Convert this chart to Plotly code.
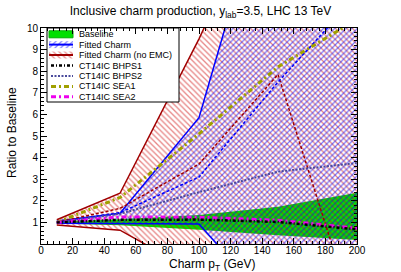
import plotly.graph_objects as go

# ---------------- data ----------------
pt = [10, 50, 100, 150, 200]

baseline_lo = [0.95, 0.87, 0.66, 0.40, 0.18]
baseline_hi = [1.05, 1.15, 1.34, 1.72, 2.37]

fit_lo = [0.96, 0.94, 0.93, -3.2, -7.0]
fit_hi = [1.07, 1.42, 5.85, 18.4, 31.0]
fit_c = [1.0, 1.45, 3.1, 7.5, 11.5]

noemc_lo = [0.88, 0.64, -1.4, -4.5, -8.0]
noemc_hi = [1.12, 2.35, 9.5, 17.0, 25.0]
noemc_c = [1.0, 1.65, 3.7, 7.85, -3.7]

bhps1 = [1.0, 1.12, 1.13, 1.02, 0.68]
bhps2 = [1.0, 1.40, 2.40, 3.35, 3.75]
sea1 = [1.0, 2.15, 5.10, 8.20, 10.4]
sea2 = [1.0, 1.25, 1.24, 1.10, 0.73]

legend_labels = ["Baseline", "Fitted Charm", "Fitted Charm (no EMC)",
                 "CT14IC BHPS1", "CT14IC BHPS2", "CT14IC SEA1", "CT14IC SEA2"]

x_ticks = list(range(0, 201, 20))
y_ticks = list(range(1, 11))

# ---------------- styles ----------------
FONT = "Liberation Sans, Arial, sans-serif"
GREEN = "#00e000"
BLUE = "#0000ff"
DRED = "#a00000"
RHATCH = "#d01010"
NAVY = "#4a4a9c"
OLIVE = "#a0a000"
MAGENTA = "#ee00ee"

W, H = 401, 272
L, R, T, B = 41, 357, 28, 244  # plot-area pixel frame

fig = go.Figure()

# Baseline band
fig.add_trace(go.Scatter(x=pt, y=baseline_lo, mode="lines", line=dict(width=0),
                         showlegend=False, hoverinfo="skip"))
fig.add_trace(go.Scatter(x=pt, y=baseline_hi, mode="lines", line=dict(width=0),
                         fill="tonexty", fillcolor=GREEN, showlegend=False))

# Fitted charm (no EMC) band - red hatch
fig.add_trace(go.Scatter(x=pt, y=noemc_lo, mode="lines", line=dict(color=DRED, width=1.5),
                         showlegend=False))
fig.add_trace(go.Scatter(x=pt, y=noemc_hi, mode="lines", line=dict(color=DRED, width=1.5),
                         fill="tonexty", fillcolor="rgba(0,0,0,0)",
                         fillpattern=dict(shape="\\", fgcolor=RHATCH, bgcolor="rgba(0,0,0,0)",
                                          size=4, solidity=0.33),
                         showlegend=False))

# Fitted charm band - blue hatch
fig.add_trace(go.Scatter(x=pt, y=fit_lo, mode="lines", line=dict(color=BLUE, width=1.5),
                         showlegend=False))
fig.add_trace(go.Scatter(x=pt, y=fit_hi, mode="lines", line=dict(color=BLUE, width=1.5),
                         fill="tonexty", fillcolor="rgba(0,0,0,0)",
                         fillpattern=dict(shape="/", fgcolor=BLUE, bgcolor="rgba(0,0,0,0)",
                                          size=4, solidity=0.33),
                         showlegend=False))

# central lines
fig.add_trace(go.Scatter(x=pt, y=noemc_c, mode="lines",
                         line=dict(color=DRED, width=1.5, dash="3px,2px"), showlegend=False))
fig.add_trace(go.Scatter(x=pt, y=fit_c, mode="lines",
                         line=dict(color=BLUE, width=1.5, dash="3px,2px"), showlegend=False))

styles = {
    "bhps1": dict(color="#000000", width=2.5, dash="3px,2px,1px,2px"),
    "bhps2": dict(color=NAVY, width=2, dash="2px,1.5px"),
    "sea1": dict(color=OLIVE, width=3, dash="5px,3px,2px,3px"),
    "sea2": dict(color=MAGENTA, width=3, dash="5px,3px,2px,3px"),
}
fig.add_trace(go.Scatter(x=pt, y=bhps2, mode="lines", line=styles["bhps2"], showlegend=False))
fig.add_trace(go.Scatter(x=pt, y=sea1, mode="lines", line=styles["sea1"], showlegend=False))
fig.add_trace(go.Scatter(x=pt, y=sea2, mode="lines", line=styles["sea2"], showlegend=False))
fig.add_trace(go.Scatter(x=pt, y=bhps1, mode="lines", line=styles["bhps1"], showlegend=False))

# ---------------- hand-drawn legend on a pixel overlay axis ----------------
lx0, lx1, ly0, ly1 = 47, 179, 28, 102
fig.add_trace(go.Scatter(x=[lx0, lx1, lx1, lx0, lx0], y=[ly0, ly0, ly1, ly1, ly0],
                         xaxis="x2", yaxis="y2", mode="lines", fill="toself",
                         fillcolor="white", line=dict(color="black", width=1),
                         showlegend=False, hoverinfo="skip"))
rows = [34.3, 44.6, 55.0, 65.5, 76.0, 86.4, 96.8]
sx0, sx1 = 49, 73


def rect(yc, h=3.5):
    return [sx0, sx1, sx1, sx0, sx0], [yc - h, yc - h, yc + h, yc + h, yc - h]


# Baseline swatch
xs, ys = rect(rows[0])
fig.add_trace(go.Scatter(x=xs, y=ys, xaxis="x2", yaxis="y2", mode="lines", fill="toself",
                         fillcolor=GREEN, line=dict(color="#00b000", width=1),
                         showlegend=False, hoverinfo="skip"))
# Fitted charm swatch
xs, ys = rect(rows[1])
fig.add_trace(go.Scatter(x=xs, y=ys, xaxis="x2", yaxis="y2", mode="none", fill="toself",
                         fillcolor="rgba(0,0,0,0)",
                         fillpattern=dict(shape="/", fgcolor=BLUE, bgcolor="rgba(0,0,0,0)",
                                          size=4, solidity=0.3),
                         showlegend=False, hoverinfo="skip"))
fig.add_trace(go.Scatter(x=[sx0, sx1], y=[rows[1], rows[1]], xaxis="x2", yaxis="y2",
                         mode="lines", line=dict(color=BLUE, width=2),
                         showlegend=False, hoverinfo="skip"))
# no EMC swatch
xs, ys = rect(rows[2])
fig.add_trace(go.Scatter(x=xs, y=ys, xaxis="x2", yaxis="y2", mode="none", fill="toself",
                         fillcolor="rgba(0,0,0,0)",
                         fillpattern=dict(shape="\\", fgcolor=RHATCH, bgcolor="rgba(0,0,0,0)",
                                          size=4, solidity=0.3),
                         showlegend=False, hoverinfo="skip"))
fig.add_trace(go.Scatter(x=[sx0, sx1], y=[rows[2], rows[2]], xaxis="x2", yaxis="y2",
                         mode="lines", line=dict(color=DRED, width=2),
                         showlegend=False, hoverinfo="skip"))
for yc, key in zip(rows[3:], ["bhps1", "bhps2", "sea1", "sea2"]):
    fig.add_trace(go.Scatter(x=[sx0 + 2, sx1], y=[yc, yc], xaxis="x2", yaxis="y2",
                             mode="lines", line=styles[key],
                             showlegend=False, hoverinfo="skip"))

annotations = []
for yc, lab in zip(rows, legend_labels):
    annotations.append(dict(x=77, y=yc, xref="x2", yref="y2", text=lab, showarrow=False,
                            xanchor="left", yanchor="middle",
                            font=dict(family=FONT, size=9, color="black")))

# axis titles
annotations.append(dict(x=(212 - L) / (R - L), y=(B - 265) / (B - T), xref="paper", yref="paper",
                        text="Charm p<sub>T</sub> (GeV)", showarrow=False,
                        xanchor="center", yanchor="middle",
                        font=dict(family=FONT, size=12, color="black")))
annotations.append(dict(x=(12 - L) / (R - L), y=(B - 133) / (B - T), xref="paper", yref="paper",
                        text="Ratio to Baseline", showarrow=False, textangle=-90,
                        xanchor="center", yanchor="middle",
                        font=dict(family=FONT, size=12, color="black")))

axis_common = dict(showline=True, linecolor="black", linewidth=1, mirror="ticks",
                   ticks="inside", ticklen=6, tickcolor="black", tickwidth=1,
                   showgrid=False, zeroline=False,
                   tickfont=dict(family=FONT, size=10, color="black"))

fig.update_layout(
    width=W, height=H,
    margin=dict(l=L, r=W - R, t=T, b=H - B, pad=0),
    paper_bgcolor="white", plot_bgcolor="white",
    showlegend=False,
    title=dict(text="Inclusive charm production, y<sub>lab</sub>=3.5, LHC 13 TeV",
               x=0.5, xanchor="center", y=1 - 11 / H, yanchor="middle",
               font=dict(family=FONT, size=12, color="black")),
    xaxis=dict(range=[0, 200], tickvals=x_ticks, ticklabelstandoff=-3,
               minor=dict(dtick=4, ticklen=3, ticks="inside", tickcolor="black"),
               **axis_common),
    yaxis=dict(range=[0, 10], tickvals=y_ticks,
               minor=dict(dtick=0.2, ticklen=3, ticks="inside", tickcolor="black"),
               **axis_common),
    xaxis2=dict(overlaying="x", range=[L, R], visible=False, fixedrange=True),
    yaxis2=dict(overlaying="y", range=[B, T], visible=False, fixedrange=True),
    annotations=annotations,
)

fig.write_html("out.html", config={"displayModeBar": False},
               post_script="document.body.style.margin='0px';document.body.style.overflow='hidden';")
